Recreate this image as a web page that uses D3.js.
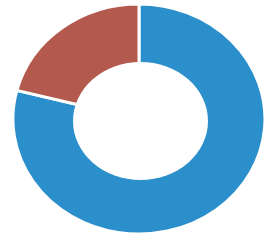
<!DOCTYPE html>
<html>
<head>
<meta charset="utf-8">
<script src="https://cdn.jsdelivr.net/npm/d3@7"></script>
<style>
  html, body { margin: 0; padding: 0; background: #fff; }
  svg { display: block; }
</style>
</head>
<body>
<svg id="chart" width="264" height="241"></svg>
<script>
// slice data (clockwise from 12 o'clock)
const labels = ["A", "B"];
const values = [79, 21];
const colors = ["#2b8fcb", "#b3594d"];

const svg = d3.select("#chart");

// the photo is a little squashed, so the ring is an ellipse
const outer = { cx: 139, cy: 119, rx: 126, ry: 115 };
const hole = { cx: 140.5, cy: 121, rx: 67.5, ry: 59 };

const pie = d3.pie().sort(null).value((d) => d.value);
const arc = d3.arc().innerRadius(0).outerRadius(1);

const slices = pie(labels.map((l, i) => ({ label: l, value: values[i] })));

const g = svg
    .append("g")
    .attr("transform", `translate(${outer.cx},${outer.cy}) scale(${outer.rx},${outer.ry})`);

g.selectAll("path")
    .data(slices)
    .enter()
    .append("path")
    .attr("d", arc)
    .attr("fill", (d, i) => colors[i])
    .attr("stroke", "#fff")
    .attr("stroke-width", 3)
    .attr("vector-effect", "non-scaling-stroke");

svg.append("ellipse")
    .attr("cx", hole.cx)
    .attr("cy", hole.cy)
    .attr("rx", hole.rx)
    .attr("ry", hole.ry)
    .attr("fill", "#fff");
</script>
</body>
</html>
